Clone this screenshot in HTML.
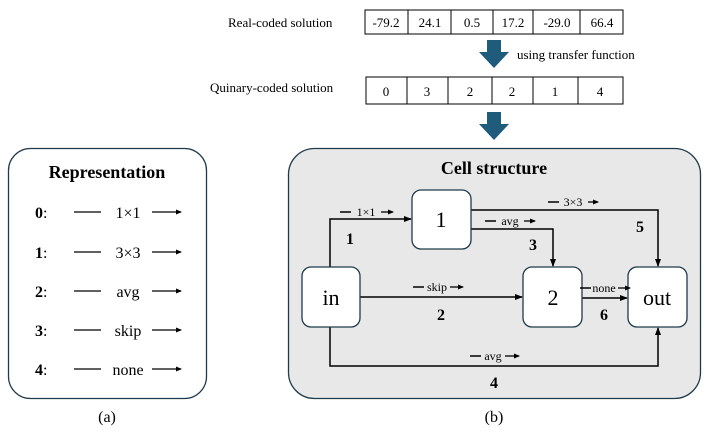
<!DOCTYPE html>
<html><head><meta charset="utf-8"><style>body{margin:0;background:#fff}svg{display:block}</style></head><body>
<svg width="708" height="434" viewBox="0 0 708 434" xmlns="http://www.w3.org/2000/svg" font-family="Liberation Serif, serif">
<defs>
<marker id="a" markerWidth="8" markerHeight="8" refX="7" refY="4" orient="auto" markerUnits="userSpaceOnUse"><path d="M0,1 L8,4 L0,7 z" fill="#000"/></marker>
<marker id="s" markerWidth="6" markerHeight="6" refX="5" refY="3" orient="auto" markerUnits="userSpaceOnUse"><path d="M0,0.5 L6,3 L0,5.5 z" fill="#000"/></marker>
</defs>
<!-- top -->
<text x="228" y="27" font-size="13">Real-coded solution</text>
<g fill="none" stroke="#000" stroke-width="1"><rect x="365" y="10" width="258" height="24"/>
<path d="M408 10v24M451 10v24M493 10v24M533 10v24M580 10v24"/></g>
<g font-size="13" text-anchor="middle"><text x="386" y="27">-79.2</text><text x="430" y="27">24.1</text><text x="472" y="27">0.5</text><text x="513" y="27">17.2</text><text x="557" y="27">-29.0</text><text x="602" y="27">66.4</text></g>
<path d="M487 40h14v12h8l-15 16l-15-16h8z" fill="#1f5b7a"/>
<text x="517" y="59" font-size="13">using transfer function</text>
<text x="210" y="92" font-size="13">Quinary-coded solution</text>
<g fill="none" stroke="#000" stroke-width="1"><rect x="366" y="77" width="257" height="27"/>
<path d="M407 77v27M448 77v27M492 77v27M533 77v27M578 77v27"/></g>
<g font-size="13" text-anchor="middle"><text x="386" y="96">0</text><text x="427" y="96">3</text><text x="470" y="96">2</text><text x="512" y="96">2</text><text x="555" y="96">1</text><text x="600" y="96">4</text></g>
<path d="M487 112h14v12h8l-15 16l-15-16h8z" fill="#1f5b7a"/>
<!-- left -->
<rect x="8.5" y="148.5" width="198" height="250" rx="22" fill="#fff" stroke="#1f3a4a" stroke-width="1.3"/>
<text x="107" y="178" font-size="18" font-weight="bold" text-anchor="middle">Representation</text>
<g font-size="16">
<g><text x="35" y="218"><tspan font-weight="bold">0</tspan>:</text><path d="M74 212h27" stroke="#000" stroke-width="1.3"/><text x="128" y="218" text-anchor="middle">1×1</text><path d="M152 212h29" stroke="#000" stroke-width="1.3" marker-end="url(#s)"/></g>
<g transform="translate(0,40)"><text x="35" y="218"><tspan font-weight="bold">1</tspan>:</text><path d="M74 212h27" stroke="#000" stroke-width="1.3"/><text x="128" y="218" text-anchor="middle">3×3</text><path d="M152 212h29" stroke="#000" stroke-width="1.3" marker-end="url(#s)"/></g>
<g transform="translate(0,79)"><text x="35" y="218"><tspan font-weight="bold">2</tspan>:</text><path d="M74 212h27" stroke="#000" stroke-width="1.3"/><text x="128" y="218" text-anchor="middle">avg</text><path d="M152 212h29" stroke="#000" stroke-width="1.3" marker-end="url(#s)"/></g>
<g transform="translate(0,118)"><text x="35" y="218"><tspan font-weight="bold">3</tspan>:</text><path d="M74 212h27" stroke="#000" stroke-width="1.3"/><text x="128" y="218" text-anchor="middle">skip</text><path d="M152 212h29" stroke="#000" stroke-width="1.3" marker-end="url(#s)"/></g>
<g transform="translate(0,157)"><text x="35" y="218"><tspan font-weight="bold">4</tspan>:</text><path d="M74 212h27" stroke="#000" stroke-width="1.3"/><text x="128" y="218" text-anchor="middle">none</text><path d="M152 212h29" stroke="#000" stroke-width="1.3" marker-end="url(#s)"/></g>
</g>
<text x="107" y="422" font-size="16" text-anchor="middle">(a)</text>
<!-- right -->
<rect x="288.5" y="148.5" width="412" height="250" rx="26" fill="#e8e8e8" stroke="#1f3a4a" stroke-width="1.3"/>
<text x="494" y="174" font-size="18" font-weight="bold" text-anchor="middle">Cell structure</text>
<g fill="none" stroke="#000" stroke-width="1.5">
<path d="M330 267V219H411" marker-end="url(#a)"/>
<path d="M471 210H658V266" marker-end="url(#a)"/>
<path d="M471 229H553V266" marker-end="url(#a)"/>
<path d="M360 297H522" marker-end="url(#a)"/>
<path d="M582 298H627" marker-end="url(#a)"/>
<path d="M330 327V366H658V328" marker-end="url(#a)"/>
</g>
<g fill="#fff" stroke="#1f3a4a" stroke-width="1.3">
<rect x="302" y="267" width="58" height="60" rx="9"/>
<rect x="412" y="190" width="59" height="59" rx="9"/>
<rect x="523" y="267" width="59" height="60" rx="9"/>
<rect x="628" y="267" width="59" height="60" rx="9"/>
</g>
<g font-size="22" text-anchor="middle"><text x="331" y="305">in</text><text x="441" y="227">1</text><text x="553" y="305">2</text><text x="657" y="305">out</text></g>
<g font-size="12" text-anchor="middle">
<text x="366" y="216">1×1</text><text x="573" y="206">3×3</text><text x="510" y="225">avg</text><text x="437" y="291">skip</text><text x="604" y="292">none</text><text x="493" y="360">avg</text>
</g>
<g stroke="#000" stroke-width="1.5" fill="none">
<path d="M340 212h11M548 202h11M485 221h11M413 287h11M580 288h11M470 356h11"/>
</g>
<g stroke="#000" stroke-width="1.3" fill="none">
<path d="M381 212h12" marker-end="url(#s)"/><path d="M588 202h10" marker-end="url(#s)"/><path d="M524 221h11" marker-end="url(#s)"/><path d="M450 287h13" marker-end="url(#s)"/><path d="M618 288h12" marker-end="url(#s)"/><path d="M505 356h14" marker-end="url(#s)"/>
</g>
<g font-size="16" font-weight="bold" text-anchor="middle"><text x="350" y="244">1</text><text x="640" y="232">5</text><text x="533" y="250">3</text><text x="441" y="320">2</text><text x="604" y="320">6</text><text x="494" y="388">4</text></g>
<text x="494" y="422" font-size="16" text-anchor="middle">(b)</text>
</svg>
</body></html>
